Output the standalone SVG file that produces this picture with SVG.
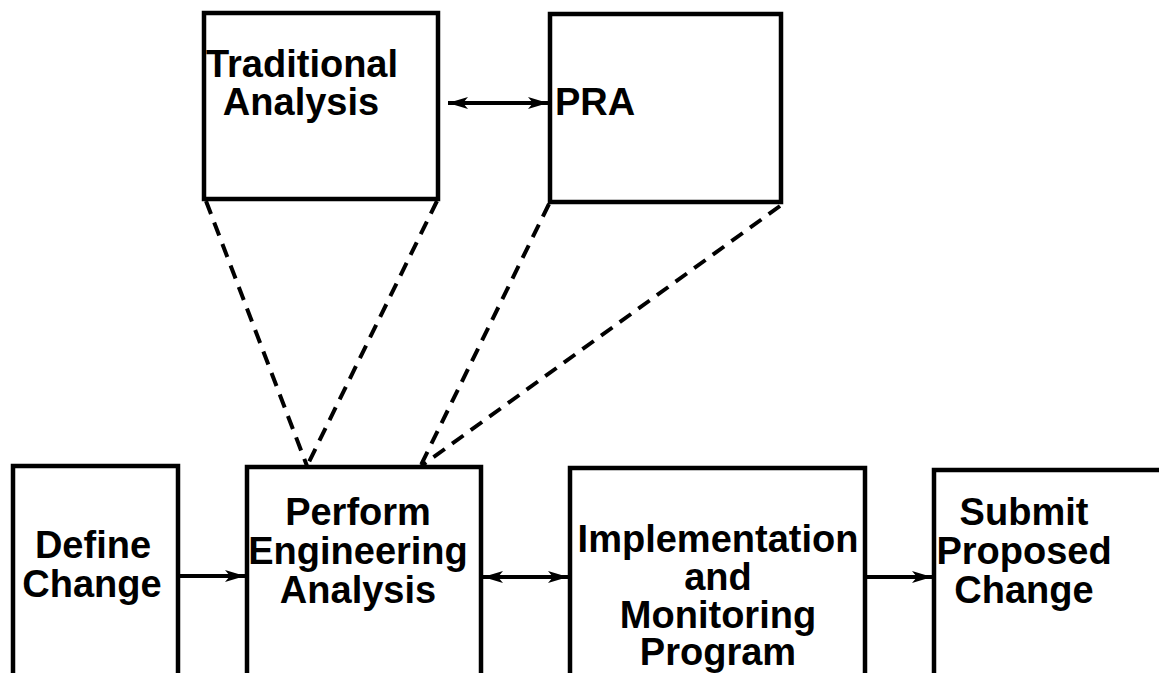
<svg xmlns="http://www.w3.org/2000/svg" width="1159" height="673" viewBox="0 0 1159 673">
<style>
.box{fill:none;stroke:#000;stroke-width:4.5}
.t{font-family:"Liberation Sans",Arial,sans-serif;font-weight:bold;font-size:38px;fill:#000}
.c{text-anchor:middle}
.conn{stroke:#000;stroke-width:4;fill:none}
.dash{stroke:#000;stroke-width:4;fill:none;stroke-dasharray:14 9}
</style>
<defs>
<marker id="ah" viewBox="0 0 20 12" refX="20" refY="6" markerWidth="20" markerHeight="12" markerUnits="userSpaceOnUse" orient="auto-start-reverse">
<path d="M0,0 L20,6 L0,12 L5,6 z" fill="#000"/>
</marker>
</defs>
<g id="traditional">
<rect class="box" x="204" y="13" width="234" height="186"/>
<text class="t c" x="302" y="77">Traditional</text>
<text class="t c" x="301" y="115">Analysis</text>
</g>
<g id="pra">
<rect class="box" x="550" y="14" width="231" height="188"/>
<text class="t" x="555" y="115">PRA</text>
</g>
<g id="define">
<rect class="box" x="13" y="466" width="165" height="220"/>
<text class="t c" x="93" y="558">Define</text>
<text class="t c" x="92" y="597">Change</text>
</g>
<g id="perform">
<rect class="box" x="247" y="467" width="234" height="220"/>
<text class="t c" x="358" y="525">Perform</text>
<text class="t c" x="358" y="564">Engineering</text>
<text class="t c" x="358" y="603">Analysis</text>
</g>
<g id="implementation">
<rect class="box" x="570" y="468" width="295" height="220"/>
<text class="t c" x="718" y="552">Implementation</text>
<text class="t c" x="718" y="590">and</text>
<text class="t c" x="718" y="628">Monitoring</text>
<text class="t c" x="718" y="665">Program</text>
</g>
<g id="submit">
<rect class="box" x="934" y="470" width="240" height="220"/>
<text class="t c" x="1024" y="525">Submit</text>
<text class="t c" x="1024" y="564">Proposed</text>
<text class="t c" x="1024" y="603">Change</text>
</g>
<g id="connectors">
<line class="conn" x1="448" y1="103" x2="548" y2="103" marker-start="url(#ah)" marker-end="url(#ah)"/>
<line class="conn" x1="180" y1="576" x2="245" y2="576" marker-end="url(#ah)"/>
<line class="conn" x1="483" y1="577" x2="568" y2="577" marker-start="url(#ah)" marker-end="url(#ah)"/>
<line class="conn" x1="867" y1="577" x2="932" y2="577" marker-end="url(#ah)"/>
<line class="dash" x1="206" y1="201" x2="307" y2="466"/>
<line class="dash" x1="437" y1="201" x2="307" y2="466"/>
<line class="dash" x1="549" y1="204" x2="420" y2="467"/>
<line class="dash" x1="780" y1="206" x2="420" y2="467"/>
</g>
</svg>
